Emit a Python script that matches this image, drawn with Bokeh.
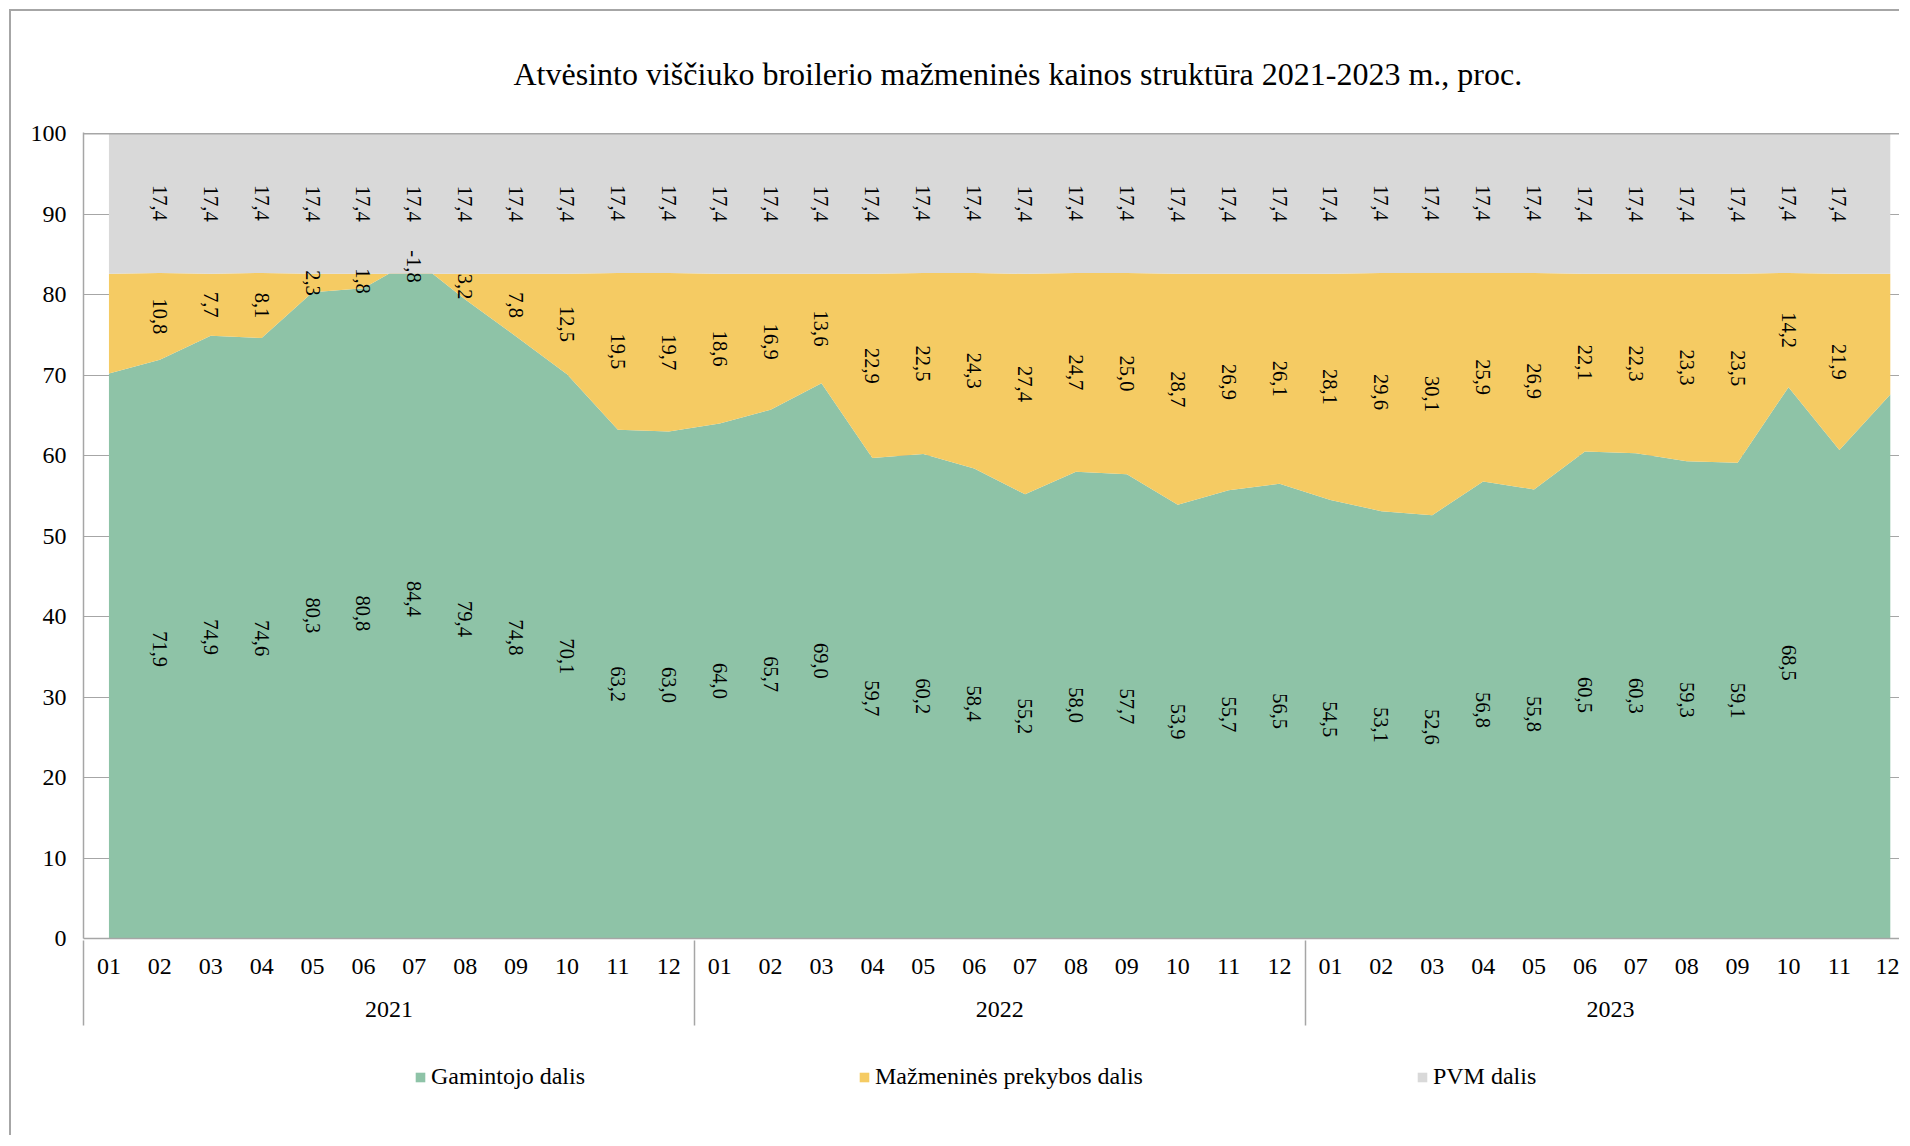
import math
from bokeh.plotting import figure
from bokeh.layouts import column
from bokeh.models import (ColumnDataSource, Range1d, LinearAxis, FixedTicker, Title,
                          Legend, LegendItem, Span, Grid)
from bokeh.core.properties import value
from bokeh.embed import file_html
from bokeh.resources import INLINE

# ---------------- data ----------------
years = ["2021", "2022", "2023"]
months = ["01", "02", "03", "04", "05", "06", "07", "08", "09", "10", "11", "12"]

producer = [70.2, 71.9, 74.9, 74.6, 80.3, 80.8, 84.4, 79.4, 74.8, 70.1, 63.2, 63.0,
            64.0, 65.7, 69.0, 59.7, 60.2, 58.4, 55.2, 58.0, 57.7, 53.9, 55.7, 56.5,
            54.5, 53.1, 52.6, 56.8, 55.8, 60.5, 60.3, 59.3, 59.1, 68.5, 60.7, 67.6]
retail = [12.4, 10.8, 7.7, 8.1, 2.3, 1.8, -1.8, 3.2, 7.8, 12.5, 19.5, 19.7,
          18.6, 16.9, 13.6, 22.9, 22.5, 24.3, 27.4, 24.7, 25.0, 28.7, 26.9, 26.1,
          28.1, 29.6, 30.1, 25.9, 26.9, 22.1, 22.3, 23.3, 23.5, 14.2, 21.9, 15.0]
vat = [17.4] * 36

# which points carry a data label
producer_labeled = list(range(1, 34))
retail_labeled = list(range(1, 35))
vat_labeled = list(range(1, 35))

series_names = ["Gamintojo dalis", "Mažmeninės prekybos dalis", "PVM dalis"]
colors = ["#8EC3A7", "#F5CB63", "#D9D9D9"]

title_text = "Atvėsinto viščiuko broilerio mažmeninės kainos struktūra 2021-2023 m., proc."

FONT = "Liberation Serif"
GRID = "#A6A6A6"
BORDER = "2px solid #A6A6A6"

# ---------------- main figure ----------------
x = list(range(len(producer)))
src = ColumnDataSource(dict(x=x, producer=producer, retail=retail, vat=vat))

p = figure(width=1890, height=1017, output_backend="svg", toolbar_location=None,
           x_range=Range1d(-0.5, 35.22), y_range=Range1d(0, 100.15),
           x_axis_type=None, y_axis_type=None,
           min_border_left=72, min_border_top=121, min_border_bottom=90, min_border_right=0)
p.styles = {"border-left": BORDER, "border-top": BORDER,
            "margin-left": "9px", "margin-top": "9px"}
p.outline_line_color = None
p.background_fill_color = "white"
p.border_fill_color = "white"

renderers = p.varea_stack(["producer", "retail", "vat"], x="x", source=src, color=colors)

# top line at 100
p.add_layout(Span(location=100, dimension="width", line_color=GRID, line_width=1.5))

# y axis
yaxis = LinearAxis(ticker=FixedTicker(ticks=list(range(0, 101, 10))))
yaxis.axis_line_color = GRID
yaxis.axis_line_width = 1.5
yaxis.major_tick_line_color = None
yaxis.minor_tick_line_color = None
yaxis.major_label_text_font = FONT
yaxis.major_label_text_font_size = "24px"
yaxis.major_label_text_color = "black"
yaxis.major_label_standoff = 11
p.add_layout(yaxis, "left")
p.add_layout(Grid(dimension=1, ticker=yaxis.ticker, grid_line_color=GRID, grid_line_width=1.2))

# month axis
month_labels = {i: months[i % 12] for i in x}
xaxis = LinearAxis(ticker=FixedTicker(ticks=x), major_label_overrides=month_labels)
xaxis.axis_line_color = GRID
xaxis.axis_line_width = 1.5
xaxis.major_tick_line_color = None
xaxis.minor_tick_line_color = None
xaxis.major_label_text_font = FONT
xaxis.major_label_text_font_size = "24px"
xaxis.major_label_text_color = "black"
xaxis.major_label_standoff = 14
p.add_layout(xaxis, "below")

# year axis
year_ticks = [5.5, 17.5, 29.5]
yearax = LinearAxis(ticker=FixedTicker(ticks=year_ticks),
                    major_label_overrides={t: y for t, y in zip(year_ticks, years)})
yearax.axis_line_color = None
yearax.major_tick_line_color = None
yearax.minor_tick_line_color = None
yearax.major_label_text_font = FONT
yearax.major_label_text_font_size = "24px"
yearax.major_label_text_color = "black"
yearax.major_label_standoff = 19
p.add_layout(yearax, "below")

# year-group separators (minor ticks reaching up to the x axis line)
sepax = LinearAxis(ticker=FixedTicker(ticks=[], minor_ticks=[-0.5, 11.5, 23.5, 35.5]))
sepax.axis_line_color = None
sepax.major_tick_line_color = None
sepax.major_label_text_font_size = "0px"
sepax.minor_tick_line_color = GRID
sepax.minor_tick_line_width = 1.5
sepax.minor_tick_in = 79
sepax.minor_tick_out = 6
p.add_layout(sepax, "below")

# data labels
def fmt(v):
    return f"{v:.1f}".replace(".", ",")

lx, ly, lt = [], [], []
for i in producer_labeled:
    lx.append(i); ly.append(producer[i] / 2); lt.append(fmt(producer[i]))
for i in retail_labeled:
    lx.append(i); ly.append(producer[i] + retail[i] / 2); lt.append(fmt(retail[i]))
for i in vat_labeled:
    lx.append(i); ly.append(producer[i] + retail[i] + vat[i] / 2); lt.append(fmt(vat[i]))
lsrc = ColumnDataSource(dict(x=lx, y=ly, t=lt))
p.text(x="x", y="y", text="t", source=lsrc, angle=-math.pi / 2,
       text_align="center", text_baseline="middle",
       text_font=value(FONT), text_font_size="20.5px", text_color="black")

# title
p.add_layout(Title(text=title_text, align="left", text_font=FONT, text_font_size="32px",
                   text_font_style="normal", text_color="black", standoff=82, offset=430), "above")

# ---------------- legend strip ----------------
p2 = figure(width=1890, height=109, output_backend="svg", toolbar_location=None,
            x_axis_type=None, y_axis_type=None,
            x_range=Range1d(0, 1), y_range=Range1d(0, 1),
            min_border_left=0, min_border_right=0, min_border_top=0, min_border_bottom=0)
p2.styles = {"border-left": BORDER, "margin-left": "9px"}
p2.outline_line_color = None
p2.xgrid.visible = False
p2.ygrid.visible = False
# legend swatches reuse the series colours (glyphs lie outside the visible range)
leg_src = ColumnDataSource(dict(x=[5, 6], y1=[5, 5], y2=[6, 6]))
leg_renderers = [p2.varea(x="x", y1="y1", y2="y2", source=leg_src, fill_color=c) for c in colors]

legend = Legend(items=[LegendItem(label=n, renderers=[r]) for n, r in zip(series_names, leg_renderers)],
                orientation="horizontal", location=(331, 45), spacing=273,
                label_standoff=5, glyph_width=12, glyph_height=12,
                label_text_font=FONT, label_text_font_size="24px", label_text_color="black",
                border_line_color=None, background_fill_alpha=0, padding=0, margin=0)
p2.add_layout(legend, "center")

layout = column(p, p2, spacing=0)
open("out.html", "w").write(file_html(layout, INLINE))
